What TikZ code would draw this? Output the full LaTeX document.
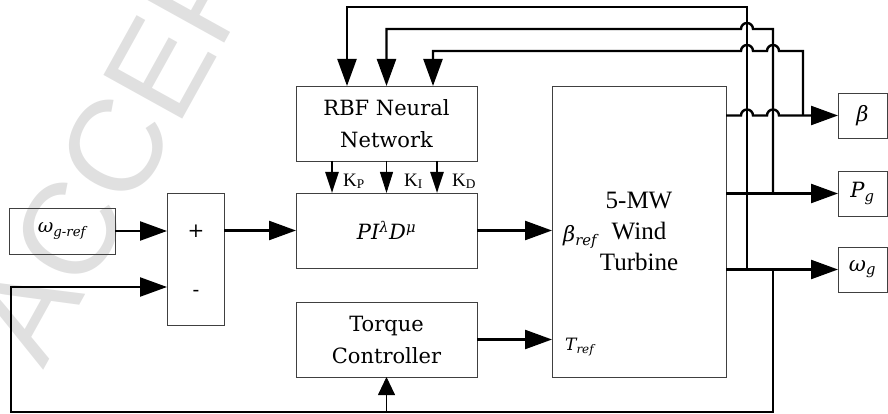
\documentclass[tikz,border=0pt]{standalone}
\usepackage{fontspec}
\newfontfamily\camfont{DejaVu Serif}
\newfontfamily\tmsfont{Liberation Serif}
\newfontfamily\wmfont{Liberation Sans}
\usetikzlibrary{arrows.meta,calc}

\tikzset{
  blk/.style={draw=black!75, line width=0.9pt, inner sep=0pt, outer sep=0pt},
  wire/.style={line width=2.4pt},
  conn/.style={wire, -{Triangle[length=27pt,width=19pt]}},
  gain/.style={wire, -{Triangle[length=21pt,width=13pt]}},
  thingain/.style={line width=0.9pt, -{Triangle[length=21pt,width=13pt]}},
  thinup/.style={line width=0.9pt, -{Triangle[length=18pt,width=17pt]}},
  blocktext/.style={font=\camfont\fontsize{21}{32}\selectfont, align=center},
  mathlbl/.style={font=\camfont\itshape\fontsize{21}{25}\selectfont},
  klbl/.style={font=\tmsfont\fontsize{19}{22}\selectfont, anchor=base west, inner sep=0pt},
  signlbl/.style={font=\camfont\fontsize{20}{24}\selectfont, inner sep=0pt},
}

\begin{document}
\begin{tikzpicture}[x=1pt,y=-1pt]
\useasboundingbox (0,0) rectangle (888,414);
\clip (0,0) rectangle (888,414);

% faint stamp behind the drawing
\node[font=\wmfont\fontsize{131}{131}\selectfont, text=black!12, rotate=61,
      anchor=base west, inner sep=0pt] (stamp) at (43,371) {ACCEPTED MANUSCRIPT};

% blocks
\node[blk, font=\camfont\itshape\fontsize{19}{23}\selectfont, minimum width=106pt, minimum height=46pt] (wref) at (62,231) {ω\textsubscript{g-ref}};
\node[blk, minimum width=57pt, minimum height=132pt] (sum) at (195.5,259) {};
\node[signlbl] (plus) at (196,231) {+};
\node[signlbl] (minus) at (196,293) {-};

\node[blk, blocktext, minimum width=181pt, minimum height=75pt] (rbf) at (386.5,123.5) {RBF Neural\\Network};
\node[blk, mathlbl, minimum width=181pt, minimum height=75pt] (pid) at (386.5,230.5) {PI\textsuperscript{λ}D\textsuperscript{μ}};
\node[blk, blocktext, minimum width=181pt, minimum height=75pt] (tq) at (386.5,339.5) {Torque\\Controller};

\node[blk, font=\tmsfont\fontsize{25}{31}\selectfont, align=center,
      minimum width=174pt, minimum height=291pt] (wt) at (639,231.5) {5-MW\\Wind\\Turbine};
\node[mathlbl, anchor=base west, inner sep=0pt] (bref) at (563,241) {β\textsubscript{ref}};
\node[font=\camfont\itshape\fontsize{17}{21}\selectfont, anchor=base west, inner sep=0pt] (tref) at (565,350) {T\textsubscript{ref}};

\node[blk, mathlbl, minimum width=49pt, minimum height=45pt] (beta) at (862.5,115.5) {β};
\node[blk, mathlbl, minimum width=49pt, minimum height=45pt] (Pg) at (862.5,193.5) {P\textsubscript{g}};
\node[blk, mathlbl, minimum width=49pt, minimum height=45pt] (wg) at (862.5,269.5) {ω\textsubscript{g}};

% gain labels
\node[klbl] (kp) at (343,186) {K\textsubscript{P}};
\node[klbl] (ki) at (404,186) {K\textsubscript{I}};
\node[klbl] (kd) at (452,186) {K\textsubscript{D}};

% routing helpers
\coordinate (busA) at (747,0);
\coordinate (busB) at (773,0);
\coordinate (busC) at (803,0);
\coordinate (rowA) at (0,7);
\coordinate (rowB) at (0,29);
\coordinate (rowC) at (0,51);
\coordinate (rowM) at (0,287);
\coordinate (rowD) at (0,412);
\coordinate (colL) at (11,0);
\coordinate (in1) at (347,86);
\coordinate (in3) at (433,86);

% forward path
\draw[conn] (wref.east) -- (wref.east -| sum.west);
\draw[conn] (pid.west -| sum.east) -- (pid.west);
\draw[conn] (pid.east) -- (pid.east -| wt.west);
\draw[conn] (tq.east) -- (tq.east -| wt.west);

% gains from the network
\draw[gain] ($(rbf.south)+(-54.5,0)$) -- ($(pid.north)+(-54.5,0)$);
\draw[thingain] (rbf.south) -- (pid.north);
\draw[gain] ($(rbf.south)+(50.5,0)$) -- ($(pid.north)+(50.5,0)$);

% turbine outputs
\draw[conn] (wt.east |- beta.west)
  -- ($(busA |- beta.west)+(-6,0)$) arc[start angle=180, end angle=0, radius=6pt]
  -- ($(busB |- beta.west)+(-6,0)$) arc[start angle=180, end angle=0, radius=6pt]
  -- (beta.west);
\draw[conn] (wt.east |- Pg.west) -- (Pg.west);
\draw[conn] (wt.east |- wg.west) -- (wg.west);

% feedback to the network
\draw[conn] (busA |- wg.west) -- (busA |- rowA) -- (in1 |- rowA) -- (in1);
\draw[conn] (busB |- Pg.west) -- (busB |- rowB)
  -- ($(busA |- rowB)+(6,0)$) arc[start angle=0, end angle=180, radius=6pt]
  -- (rbf.north |- rowB) -- (rbf.north);
\draw[conn] (busC |- beta.west) -- (busC |- rowC)
  -- ($(busB |- rowC)+(6,0)$) arc[start angle=0, end angle=180, radius=6pt]
  -- ($(busA |- rowC)+(6,0)$) arc[start angle=0, end angle=180, radius=6pt]
  -- (in3 |- rowC) -- (in3);

% speed feedback
\draw[conn] (busB |- wg.west) -- (busB |- rowD) -- (colL |- rowD) -- (colL |- rowM) -- (sum.west |- rowM);
\draw[thinup] (tq.south |- rowD) -- (tq.south);
\end{tikzpicture}
\end{document}
